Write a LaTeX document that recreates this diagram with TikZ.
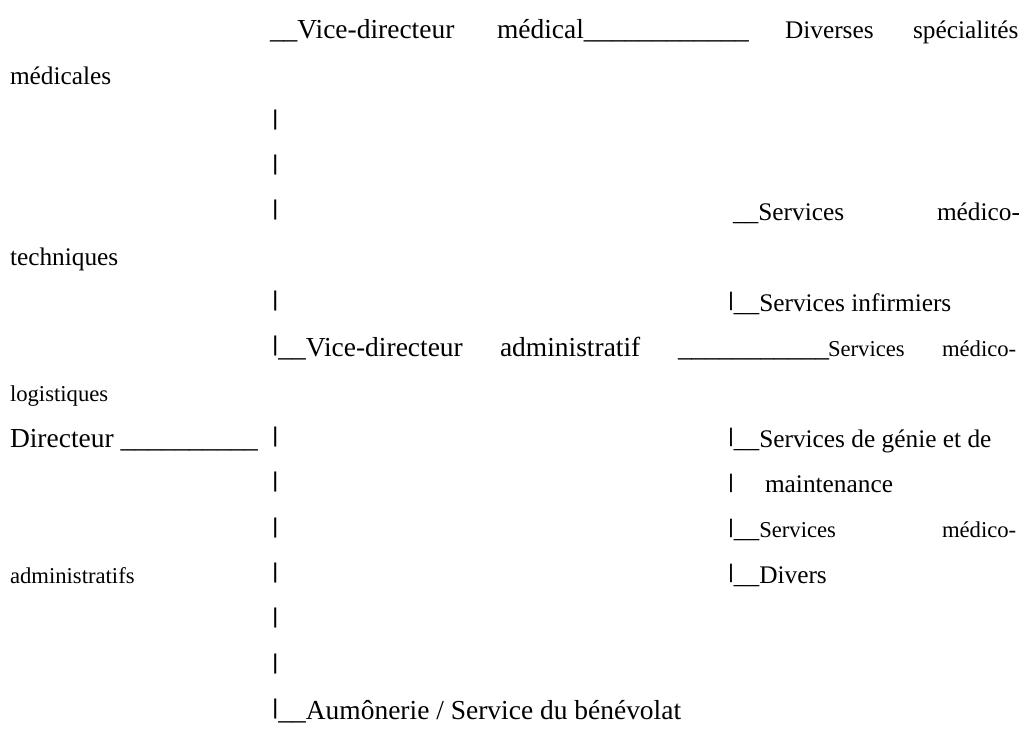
\documentclass[tikz,border=0pt]{standalone}
\usepackage{graphicx}
\usepackage{fontspec}
\setmainfont{Liberation Serif}
\newfontfamily\barfont{Liberation Sans}
\newcommand{\orgbar}{\raisebox{0.16em}{\scalebox{0.9}[0.78]{\barfont|}}}

\begin{document}
\begin{tikzpicture}[x=0.75pt, y=-0.75pt,
		txt/.style={anchor=base west, inner sep=0pt, outer sep=0pt},
		big/.style={txt, font=\fontsize{20.6}{24}\selectfont},
		med/.style={txt, font=\fontsize{19}{22}\selectfont},
		sml/.style={txt, font=\fontsize{17}{20}\selectfont}]
				\useasboundingbox (0,0) rectangle (1025,738);
				% left column bars
				\foreach \r in {2,3,4,6,9,10,11,12,13,14} {
					\node[big] (bar\r) at (272,{39+45.33*\r}) {\orgbar};
				}
				\node[big] (vdmA) at (270,39) {\_\_Vice-directeur};
				\node[big] (vdmB) at (497,39) {médical\_\_\_\_\_\_\_\_\_\_\_\_};
				\node[med] (divA) at (785,39) {Diverses};
				\node[med] (divB) at (913,39) {spécialités};
				\node[med] (divC) at (10,84.3) {médicales};
				\node[med] (mtA) at (733,220.3) {\_\_Services};
				\node[med] (mtB) at (937,220.3) {médico-};
				\node[med] (mtC) at (10,265.7) {techniques};
				\node[med] (inf) at (728,311) {\orgbar\_\_Services infirmiers};
				\node[big] (vdaA) at (272,356.3) {\orgbar\_\_Vice-directeur};
				\node[big] (vdaB) at (500,356.3) {administratif};
				\node[big] (vdaC) at (678,356.3) {\_\_\_\_\_\_\_\_\_\_\_};
				\node[sml] (mlA) at (828,356.3) {Services};
				\node[sml] (mlB) at (942,356.3) {médico-};
				\node[sml] (mlC) at (10,401.7) {logistiques};
				\node[big] (dir) at (10,447) {Directeur \_\_\_\_\_\_\_\_\_\_};
				\node[med] (gen) at (728,447) {\orgbar\_\_Services de génie et de};
				\node[med] (genB) at (728,492.3) {\orgbar};
				\node[med] (genC) at (765,492.3) {maintenance};
				\node[med] (maA) at (728,537.7) {\orgbar\_\_{\fontsize{17}{20}\selectfont Services}};
				\node[sml] (maC) at (942,537.7) {médico-};
				\node[sml] (maD) at (10,583) {administratifs};
				\node[med] (dvs) at (728,583) {\orgbar\_\_Divers};
				\node[big] (aum) at (272,719) {\orgbar\_\_Aumônerie / Service du bénévolat};
			\end{tikzpicture}
\end{document}
